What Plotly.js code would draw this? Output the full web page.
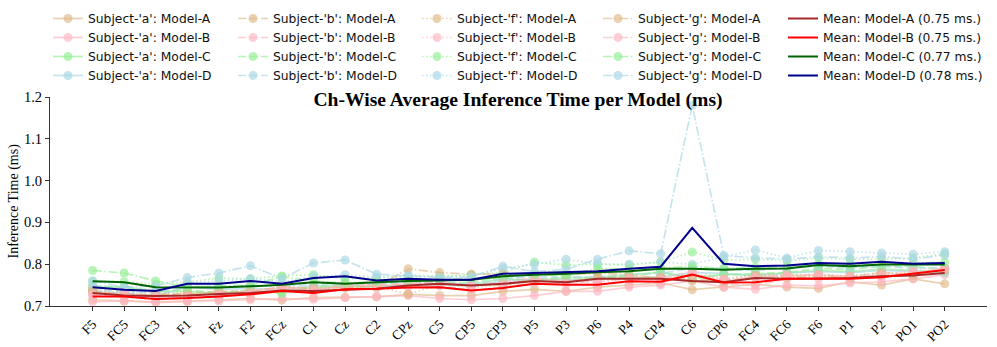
<html>
<head>
    <meta charset="utf-8">
    <script src="https://cdn.plot.ly/plotly-3.0.1.min.js"></script>
    <style type="text/css">
        body {margin:0; padding:0; background:#fff}
        #chart {width:997px; height:347px}
    </style>
</head>
<body>
<div id="chart"></div>
<script>
    var channels = ['F5','FC5','FC3','F1','Fz','F2','FCz','C1','Cz','C2','CPz','C5','CP5','CP3','P5','P3','P6','P4','CP4','C6','CP6','FC4','FC6','F6','P1','P2','PO1','PO2'];

    // subject 'a'
    var aModelA = [.715,.712,.710,.712,.715,.718,.714,.720,.721,.722,.728,.725,.725,.735,.740,.735,.745,.750,.755,.739,.745,.752,.745,.742,.758,.750,.765,.753];
    var aModelB = [.710,.712,.708,.710,.712,.715,.718,.716,.720,.722,.725,.718,.715,.718,.725,.735,.735,.745,.750,.760,.745,.740,.750,.748,.755,.758,.765,.775];
    var aModelC = [.745,.745,.735,.735,.730,.735,.732,.745,.745,.748,.750,.752,.752,.765,.760,.768,.768,.775,.780,.770,.775,.775,.778,.785,.782,.788,.785,.780];
    var aModelD = [.735,.730,.725,.745,.740,.742,.740,.748,.750,.745,.752,.750,.748,.760,.765,.762,.765,.768,.770,.780,.778,.772,.780,.782,.780,.785,.782,.780];
    // subject 'b'
    var bModelA = [.735,.728,.728,.730,.735,.735,.745,.740,.745,.748,.752,.755,.750,.750,.765,.760,.768,.770,.768,.765,.760,.770,.772,.775,.770,.780,.775,.790];
    var bModelB = [.725,.722,.716,.718,.722,.728,.738,.732,.742,.742,.745,.748,.738,.745,.755,.752,.752,.760,.755,.780,.752,.750,.765,.765,.765,.770,.778,.790];
    var bModelC = [.748,.745,.735,.738,.732,.738,.730,.748,.748,.752,.758,.755,.757,.768,.760,.770,.765,.772,.782,.765,.775,.778,.780,.790,.788,.795,.795,.788];
    var bModelD = [.740,.735,.732,.748,.745,.748,.748,.752,.755,.752,.758,.755,.752,.765,.770,.768,.770,.775,.778,.790,.790,.785,.792,.795,.792,.795,.790,.792];
    // subject 'f'
    var fModelA = [.740,.732,.733,.730,.733,.738,.742,.742,.745,.748,.728,.752,.745,.750,.760,.758,.768,.765,.770,.775,.765,.775,.775,.775,.772,.780,.778,.785];
    var fModelB = [.730,.730,.722,.725,.728,.735,.745,.738,.748,.750,.752,.755,.748,.752,.765,.760,.760,.765,.763,.785,.765,.770,.772,.772,.770,.775,.785,.790];
    var fModelC = [.760,.758,.752,.757,.767,.765,.772,.775,.765,.768,.770,.772,.775,.780,.805,.798,.800,.798,.805,.829,.810,.812,.808,.815,.812,.812,.815,.825];
    var fModelD = [.750,.742,.740,.755,.760,.765,.758,.770,.775,.768,.775,.770,.772,.790,.800,.812,.800,.800,.805,.800,.818,.834,.815,.833,.830,.827,.824,.830];
    // subject 'g'
    var gModelA = [.735,.728,.725,.728,.733,.733,.747,.742,.745,.746,.789,.780,.776,.777,.775,.775,.779,.775,.767,.761,.758,.771,.768,.772,.768,.774,.774,.788];
    var gModelB = [.727,.728,.722,.723,.730,.734,.743,.738,.750,.750,.754,.759,.747,.757,.767,.757,.757,.766,.764,.775,.762,.768,.773,.775,.770,.773,.780,.789];
    var gModelC = [.785,.779,.760,.745,.748,.750,.770,.760,.755,.758,.762,.765,.768,.770,.775,.772,.790,.788,.790,.795,.790,.792,.795,.800,.798,.800,.802,.805];
    var gModelD = [.760,.745,.748,.768,.779,.796,.766,.803,.810,.776,.772,.768,.770,.795,.782,.788,.812,.832,.825,1.180,.821,.815,.812,.818,.815,.818,.812,.822];

    // means over subjects
    var meanModelA = [.731,.725,.724,.725,.729,.731,.737,.736,.739,.741,.749,.753,.749,.753,.760,.757,.765,.765,.765,.760,.757,.767,.765,.766,.767,.771,.773,.779];
    var meanModelB = [.723,.723,.717,.719,.723,.728,.736,.731,.740,.741,.744,.745,.737,.743,.753,.751,.751,.759,.758,.775,.756,.757,.765,.765,.765,.769,.777,.786];
    var meanModelC = [.759,.757,.745,.744,.744,.747,.751,.757,.753,.757,.760,.761,.763,.771,.775,.777,.781,.783,.789,.789,.787,.789,.790,.798,.795,.799,.799,.799];
    var meanModelD = [.745,.739,.736,.753,.753,.760,.753,.767,.771,.761,.765,.763,.763,.777,.779,.781,.783,.789,.794,.887,.801,.795,.797,.803,.801,.806,.801,.803];
    var meanLabels = ['0.75', '0.75', '0.77', '0.78'];

    var models = ['A', 'B', 'C', 'D'];
    var subjects = ['a', 'b', 'f', 'g'];
    var subjectData = {
        a: [aModelA, aModelB, aModelC, aModelD],
        b: [bModelA, bModelB, bModelC, bModelD],
        f: [fModelA, fModelB, fModelC, fModelD],
        g: [gModelA, gModelB, gModelC, gModelD]
    };
    var meanData = [meanModelA, meanModelB, meanModelC, meanModelD];

    var lightColors = ['rgba(222,184,135,0.65)', 'rgba(255,182,193,0.65)', 'rgba(144,238,144,0.65)', 'rgba(173,216,230,0.7)'];
    var meanColors = ['#a52a2a', '#ff0000', '#006400', '#00008b'];
    var dashes = ['solid', '8px,3.5px', '1.5px,2.5px', '9.5px,2.4px,1.5px,2.4px'];
    var legendIds = ['legend', 'legend2', 'legend3', 'legend4', 'legend5'];

    var traces = [];
    for (var s = 0; s < subjects.length; s++) {
        for (var m = 0; m < models.length; m++) {
            traces.push({
                type: 'scatter',
                mode: 'lines+markers',
                x: channels,
                y: subjectData[subjects[s]][m],
                name: "Subject-'" + subjects[s] + "': Model-" + models[m],
                legend: legendIds[s],
                line: {color: lightColors[m], width: 1.7, dash: dashes[s]},
                marker: {color: lightColors[m], size: 9, symbol: 'circle'}
            });
        }
    }
    for (var m = 0; m < models.length; m++) {
        traces.push({
            type: 'scatter',
            mode: 'lines',
            x: channels,
            y: meanData[m],
            name: 'Mean: Model-' + models[m] + ' (' + meanLabels[m] + ' ms.)',
            legend: 'legend5',
            line: {color: meanColors[m], width: 2}
        });
    }

    function makeLegend(xPx) {
        return {
            xref: 'container', yref: 'container',
            x: xPx / 997, y: 1 - 4 / 347,
            xanchor: 'left', yanchor: 'top',
            orientation: 'v',
            tracegroupgap: 0,
            bgcolor: 'rgba(0,0,0,0)',
            font: {family: 'DejaVu Sans', size: 12.3, color: '#111'}
        };
    }

    var serif = 'Liberation Serif, Times New Roman, serif';
    var layout = {
        width: 997,
        height: 347,
        margin: {l: 50, r: 10, t: 97, b: 41, autoexpand: false},
        paper_bgcolor: '#fff',
        plot_bgcolor: '#fff',
        showlegend: true,
        legend: makeLegend(48),
        legend2: makeLegend(233),
        legend3: makeLegend(417),
        legend4: makeLegend(598),
        legend5: makeLegend(783),
        title: {
            text: '<b>Ch-Wise Average Inference Time per Model (ms)</b>',
            font: {family: serif, size: 19.6, color: '#000'},
            xref: 'container', x: 518 / 997, xanchor: 'center',
            y: 1 - 99 / 347, yanchor: 'middle'
        },
        xaxis: {
            type: 'category',
            range: [-1.35, 28.34],
            showgrid: false, zeroline: false,
            showline: true, linecolor: '#333', linewidth: 1,
            ticks: 'outside', ticklen: 4, tickcolor: '#333',
            tickangle: -45,
            tickfont: {family: serif, size: 13.5, color: '#000'}
        },
        yaxis: {
            range: [0.7, 1.2],
            dtick: 0.1, tick0: 0.7, tickformat: '.1f',
            showgrid: false, zeroline: false,
            showline: true, linecolor: '#333', linewidth: 1,
            ticks: 'outside', ticklen: 4, tickcolor: '#333',
            tickfont: {family: serif, size: 14.5, color: '#000'}
        },
        annotations: [{
            text: 'Inference Time (ms)',
            xref: 'paper', yref: 'paper',
            x: (13 - 50) / 937, y: 0.5,
            xanchor: 'center', yanchor: 'middle',
            textangle: -90, showarrow: false,
            font: {family: serif, size: 14, color: '#000'}
        }]
    };

    Plotly.newPlot('chart', traces, layout, {displayModeBar: false, responsive: false});
</script>
</body>
</html>
